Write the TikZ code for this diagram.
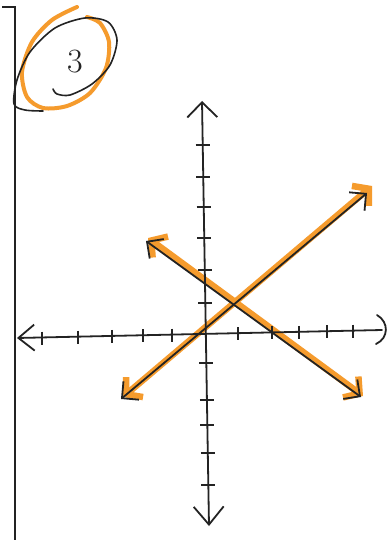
\documentclass[tikz,border=0pt]{standalone}
\usepackage{fontspec}
\usetikzlibrary{arrows.meta}
\definecolor{hlorange}{RGB}{245,155,45}
\definecolor{inkc}{RGB}{35,35,35}
\begin{document}
\begin{tikzpicture}[x=1pt,y=-1pt,
  axis/.style={line width=1.8pt,inkc,line cap=round,line join=round},
  tickmark/.style={line width=1.4pt,inkc},
  hl/.style={line width=6.5pt,hlorange,line cap=round,line join=round},
  ink/.style={line width=1.8pt,inkc,line cap=round,line join=round},
  hlbarb/.style={{Straight Barb[length=11pt,width=26pt]}-{Straight Barb[length=11pt,width=26pt]}},
  inkbarb/.style={{Straight Barb[length=12pt,width=24pt]}-{Straight Barb[length=12pt,width=24pt]}}]
\useasboundingbox (0,0) rectangle (391,540);
\fill[white] (0,0) rectangle (391,540);
% page edge
\draw[line width=1.5pt,inkc] (2,7) -- (15,7) -- (15,540);
% circled number
\draw[hl,line width=4pt] plot[smooth] coordinates {(77,7) (52,20) (32,42) (22,72) (27,97) (43,108) (67,106) (90,93) (106,68) (109,42) (100,23) (87,17)};
\draw[ink,line width=1.6pt] plot[smooth] coordinates {(43,111) (25,110) (14,104) (17,80) (30,52) (55,28) (85,18) (108,22) (117,40) (110,65) (92,84) (70,95) (57,94) (53,89)};
\node[inkc] (num) at (75,62) {\fontsize{34}{34}\selectfont 3};
% coordinates
\coordinate (xl) at (17,338);
\coordinate (xr) at (382,330);
\coordinate (yt) at (202,101);
\coordinate (yb) at (209,526);
\coordinate (o1a) at (123,397);
\coordinate (o1b) at (372,186);
\coordinate (b1a) at (121,399);
\coordinate (b1b) at (367,193);
\coordinate (o2a) at (148,238);
\coordinate (o2b) at (363,396);
\coordinate (b2a) at (146,241);
\coordinate (b2b) at (361,397);
% highlighter lines
\draw[hl,hlbarb] (o1a) -- (o1b);
\draw[hl,hlbarb] (o2a) -- (o2b);
% axes
\draw[axis,{Straight Barb[length=16pt,width=26pt]}-] (xl) -- (xr);
\draw[axis] (377,315) .. controls (389,322) and (389,338) .. (376,344);
\draw[axis,{Straight Barb[length=15pt,width=30pt]}-{Straight Barb[length=18pt,width=30pt]}] (yt) -- (yb);
\foreach \x/\y in {42/337.5,78/336.7,112/335.9,143/335.2,172/334.6,238/333.2,272/332.4,299/331.8,327/331.2,353/330.6}
  \draw[tickmark] (\x,\y-6) -- (\x,\y+7);
\foreach \x/\y in {202.7/145,203.2/177,203.7/207,204.3/238,204.8/270,205.3/303,206.3/363,206.9/400,207.3/425,207.8/453,208.3/485}
  \draw[tickmark] (\x-7,\y) -- (\x+7,\y);
% ink lines
\draw[ink,inkbarb] (b1a) -- (b1b);
\draw[ink,inkbarb] (b2a) -- (b2b);
\end{tikzpicture}
\end{document}
